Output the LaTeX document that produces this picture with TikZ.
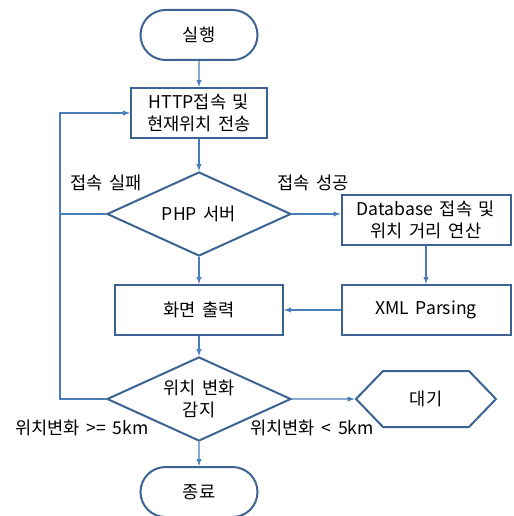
\documentclass[tikz,border=0pt]{standalone}
\usepackage{fontspec}
\setmainfont[WordSpace=1.7]{Noto Sans CJK KR}
\usetikzlibrary{shapes.geometric,shapes.misc,shapes.symbols}
\definecolor{edgeblue}{HTML}{3D6394}
\definecolor{linkblue}{HTML}{4A7EBB}

\begin{document}
\begin{tikzpicture}[x=0.75pt, y=-0.75pt, -latex, font=\fontsize{13.2}{16.5}\selectfont,
  every node/.style={align=center, inner sep=0pt},
  link/.style={draw=linkblue, line width=0.8pt},
  term/.style={rounded rectangle, draw=edgeblue, line width=1.5pt, minimum width=87.75pt, minimum height=37.5pt},
  proc/.style={rectangle, draw=edgeblue, line width=1.5pt, minimum width=#1, minimum height=37.5pt},
  decide/.style={diamond, aspect=2.2, draw=edgeblue, line width=1.5pt, minimum width=138pt, minimum height=63pt},
  waitbox/.style={signal, signal to=west and east, signal pointer angle=92, draw=edgeblue, line width=1.5pt, minimum width=105pt, minimum height=42pt}]
\useasboundingbox (0,0) rectangle (513,516);

\node[term] (start) at (199,35) {실행};
\node[proc=102pt] (http) at (199,113) {HTTP접속 및\\현재위치 전송};
\node[decide] (php) at (199,214) {PHP 서버};
\node[proc=126.75pt] (db) at (426,220) {Database 접속 및\\위치 거리 연산};
\node[proc=126.75pt] (xml) at (426,310) {XML Parsing};
\node[proc=126pt] (screen) at (199,310) {화면 출력};
\node[decide] (sense) at (199,399) {위치 변화\\감지};
\node[waitbox] (wait) at (426,399) {대기};
\node[term] (finish) at (199,492) {종료};

\node (fail) at (106,183) {접속 실패};
\node (ok) at (313,183) {접속 성공};
\node (far) at (82,428) {위치변화 >= 5km};
\node (near) at (312,428) {위치변화 < 5km};

\coordinate (loop) at (60,113);

\draw[link] (start) -- (http);
\draw[link] (http) -- (php);
\draw[link] (php) -- (screen);
\draw[link] (php.east) -- (php.east -| db.west);
\draw[link] (db) -- (xml);
\draw[link] (xml) -- (screen);
\draw[link] (screen) -- (sense);
\draw[link] (sense) -- (wait);
\draw[link] (sense) -- (finish);
\draw[link] (sense.west) -| (loop) -- (http.west);
\draw[link, -] (php.west) -- (php.west -| loop);
\end{tikzpicture}
\end{document}
